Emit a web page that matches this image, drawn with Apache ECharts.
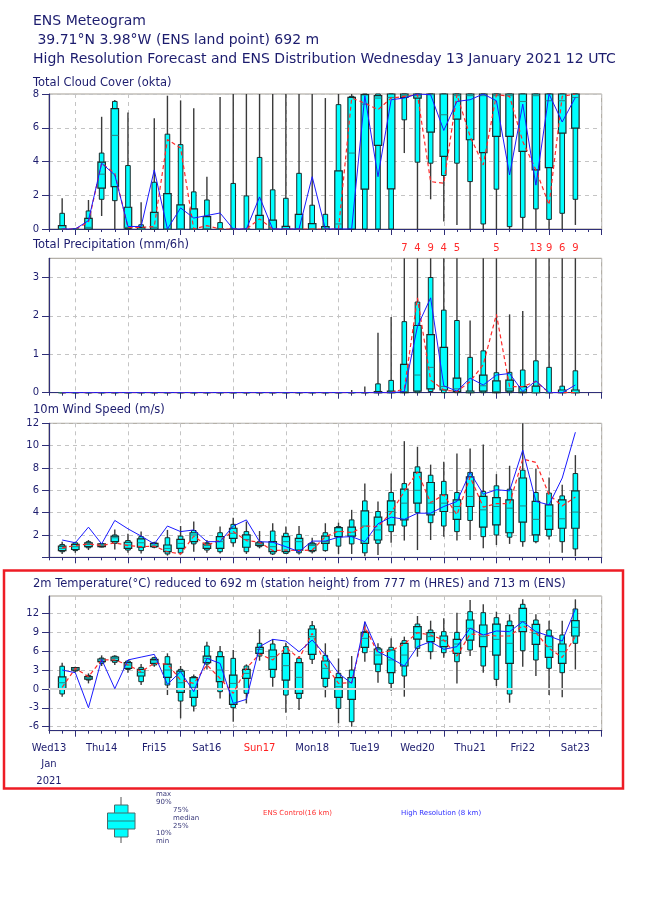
<!DOCTYPE html>
<html><head><meta charset="utf-8">
<script src="https://cdn.jsdelivr.net/npm/echarts@6/dist/echarts.min.js"></script>
<style>html,body{margin:0;padding:0;background:#fff}#c{width:650px;height:916px}</style>
</head><body><div id="c"></div>
<script>
// ---------- DATA ----------
// forecast steps (hours after Wed 13 Jan 2021 12 UTC)
const steps = [6,12,18,24,30,36,42,48,54,60,66,72,78,84,90,96,102,108,114,120,126,132,138,144,150,156,162,168,174,180,186,192,198,204,210,216,222,228,234,240];
const dayLabelSteps = [0,24,48,72,96,120,144,168,192,216,240];
const dayLabels = ['Wed13\nJan\n2021','Thu14','Fri15','Sat16','Sun17','Mon18','Tue19','Wed20','Thu21','Fri22','Sat23'];
const midnightSteps = [12,36,60,84,108,132,156,180,204,228,252];

// each box: [min, p10, p25, median, p75, p90, max]
const cloudBox = [
 [0,0,0,0,0.2,0.93,1.82],[0,0,0,0,0,0,0],[0,0,0,0.1,0.63,1.07,1.72],[0.77,1.76,2.42,3.25,3.96,4.5,6.65],
 [0,1.68,2.51,5.55,7.13,7.56,7.64],[0,0,0.05,0.1,1.29,3.76,6.9],[0,0,0,0,0.1,0.25,1.58],[0,0,0,0.1,0.99,2.77,6.57],
 [0,0,0,0,2.1,5.62,7.9],[0,0,0,0,1.43,5.0,7.62],[0,0,0,0,1.19,2.2,7.15],[0,0,0,0,0.73,1.72,3.1],
 [0,0,0,0,0,0.38,7.82],[0,0,0,0,0,2.7,8],[0,0,0,0,0,1.96,8],[0,0,0,0,0.81,4.24,8],
 [0,0,0,0,0.53,2.32,8],[0,0,0,0,0.15,1.82,8],[0,0,0,0,0.87,3.3,8],[0,0,0,0,0.32,1.41,8],
 [0,0,0,0,0.14,0.87,7.76],[0,0,0,0.3,3.45,7.37,8],[0,0,0,4.5,7.8,7.86,8],[0,0,2.36,7.4,7.96,8,8],
 [0,0,4.95,7.76,7.9,8,8],[0,0,2.38,7.8,8,8,8],[4.5,6.47,7.8,7.9,8,8,8],[0,3.96,7.76,7.9,8,8,8],
 [1.76,3.9,5.74,7.96,8,8,8],[0.44,3.17,4.3,6.77,8,8,8],[0.24,3.9,6.51,7.9,8,8,8],[0,2.81,5.29,7.9,8,8,8],
 [0,0.3,4.53,7.9,8,8,8],[0,2.36,5.49,7.9,8,8,8],[0,0.14,5.49,7.9,8,8,8],[0,0.69,4.6,7.56,8,8,8],
 [0,1.19,3.5,7.9,8,8,8],[0,0.57,3.64,7.6,8,8,8],[0,0.93,5.68,7.6,8,8,8],[0.24,1.76,5.98,7.8,8,8,8]
];
const cloudCtrl = [0,0,0.4,3.9,3.3,0.1,0.1,0.15,5.3,4.8,0,0.2,0,0,0,0.6,0,0,0,0,0,0,7.76,7.46,7.07,7.76,7.86,7.96,2.81,2.71,7.96,5.49,3.8,7.96,7.86,5.19,3.5,1.43,7.86,8];
const cloudHres = [0,0,0.5,3.9,3.2,0.15,0.15,3.5,0,1.25,0.65,0.8,0.95,0,0,1.9,0,0,0,3.1,0,0,0,7.9,3.1,7.66,7.76,8,7.96,5.84,7.56,7.66,8,7.6,3.2,7.4,2.6,8,6.34,7.8];

const precipBox = [
 [0,0,0,0,0,0,0],[0,0,0,0,0,0,0],[0,0,0,0,0,0,0],[0,0,0,0,0,0,0],[0,0,0,0,0,0,0],[0,0,0,0,0,0,0],
 [0,0,0,0,0,0,0],[0,0,0,0,0,0,0],[0,0,0,0,0,0,0],[0,0,0,0,0,0,0],[0,0,0,0,0,0,0],[0,0,0,0,0,0,0],
 [0,0,0,0,0,0,0],[0,0,0,0,0,0,0],[0,0,0,0,0,0,0],[0,0,0,0,0,0,0],[0,0,0,0,0,0,0],[0,0,0,0,0,0,0],
 [0,0,0,0,0,0,0],[0,0,0,0,0,0,0],[0,0,0,0,0,0,0],[0,0,0,0,0,0,0],[0,0,0,0,0,0,0.07],[0,0,0,0,0,0,0.16],
 [0,0,0,0,0.03,0.23,1.56],[0,0,0,0,0.04,0.32,1.97],[0,0,0,0.03,0.74,1.85,7],[0,0,0.04,0.46,1.75,2.36,4],
 [0,0.03,0.1,0.66,1.51,3.0,9],[0,0,0.07,0.16,1.18,2.15,4],[0,0,0.03,0.1,0.38,1.88,5],[0,0,0,0.02,0.04,0.92,1.88],
 [0,0,0.04,0.18,0.46,1.09,3.5],[0,0,0,0.03,0.31,0.52,5],[0,0,0.04,0.1,0.33,0.53,2.04],[0,0,0,0.03,0.16,0.59,2.13],
 [0,0,0,0,0.17,0.83,13],[0,0,0,0,0,0.66,9],[0,0,0,0,0.07,0.17,6],[0,0,0,0,0.07,0.57,9]
];
const precipCtrl = [0,0,0,0,0,0,0,0,0,0,0,0,0,0,0,0,0,0,0,0,0,0,0,0,0,0,0.1,2.47,0.33,0.07,0.03,0.29,0.73,2.04,0.16,0.16,0.29,0,0,0];
const precipHres = [0,0,0,0,0,0,0,0,0,0,0,0,0,0,0,0,0,0,0,0,0,0,0,0,0,0,0.03,1.73,2.47,0.18,0.04,0.38,0.2,0.46,0.5,0.03,0.31,0,0,0.2];

const windBox = [
 [0.3,0.5,0.6,0.8,1.0,1.15,1.4],[0.4,0.6,0.7,0.95,1.15,1.3,1.4],[0.65,0.85,0.95,1.15,1.3,1.4,1.55],[0.9,0.92,0.95,1.07,1.2,1.22,1.25],
 [0.7,1.25,1.4,1.75,1.9,2.0,2.5],[0.4,0.65,0.8,1.1,1.35,1.5,2.1],[0.35,0.6,0.9,1.3,1.65,1.85,2.3],[0.8,0.9,0.95,1.1,1.25,1.3,1.4],
 [0.15,0.3,0.5,0.8,1.1,1.75,2.45],[0.25,0.4,0.8,1.25,1.6,1.9,2.8],[0.5,1.2,1.4,2.0,2.2,2.4,3.2],[0.4,0.65,0.8,1.05,1.2,1.3,1.55],
 [0.35,0.5,0.8,1.4,1.85,2.2,2.75],[0.95,1.3,1.7,2.15,2.6,2.95,3.55],[0.3,0.5,0.9,1.6,2.0,2.3,3.2],[0.8,0.95,1.07,1.2,1.3,1.4,2.35],
 [0.2,0.3,0.5,0.95,1.4,2.35,3.05],[0.3,0.35,0.5,1.4,1.85,2.15,2.75],[0.25,0.4,0.65,1.4,1.7,2.05,2.8],[0.35,0.5,0.6,1.05,1.2,1.3,1.75],
 [0.5,0.6,1.25,1.4,1.9,2.2,3.05],[0.3,1.0,1.85,2.3,2.65,2.75,3.1],[0.3,1.2,1.9,2.25,2.7,3.35,4.25],[0.1,0.4,1.25,2.8,4.15,5.05,6.6],
 [0.2,1.25,1.55,2.45,3.6,4.1,5.0],[1.3,2.3,2.9,4.1,5.05,5.8,7.5],[1.5,2.8,3.35,4.85,6.1,6.6,10.4],[0.65,4.0,4.85,6.0,7.6,8.1,9.9],
 [1.55,3.1,3.8,4.85,6.7,7.35,8.3],[1.85,2.8,4.1,4.85,5.6,6.8,8.55],[1.5,2.3,3.4,4.55,5.15,5.8,9.3],[1.55,3.3,4.55,5.45,7.2,7.6,9.75],
 [0.8,1.85,2.7,4.25,5.45,5.9,10.1],[1.1,2.0,2.9,4.55,5.35,6.4,7.45],[1.2,1.8,2.2,4.4,5.15,6.1,8.2],[0.95,1.4,3.15,4.6,7.1,7.8,12.0],
 [1.25,1.4,2.0,3.4,5.0,5.8,7.95],[1.6,1.9,2.5,3.7,4.7,5.75,7.15],[0.4,1.4,2.6,3.45,5.15,5.5,6.5],[0.1,0.75,2.6,4.05,5.95,7.5,9.15]
];
const windCtrl = [0.85,1.05,1.2,1.05,1.3,1.05,0.95,1.0,0.5,0.3,1.9,1.05,1.55,2.3,1.5,1.35,0.6,0.65,0.6,0.65,1.85,2.35,2.2,2.8,2.75,4.0,5.9,7.65,4.9,5.6,3.8,7.2,4.5,4.8,4.8,8.8,8.5,5.6,4.6,5.4];
const windHres = [1.55,1.3,2.7,1.2,3.3,2.55,1.9,1.2,2.8,2.3,2.45,1.4,1.4,2.8,3.35,1.4,1.35,0.95,0.5,1.45,1.45,1.8,1.85,1.4,3.0,3.6,3.4,3.95,3.95,4.55,5.0,7.6,5.65,6.05,5.95,9.6,5.0,4.7,7.1,11.2];

const tempBox = [
 [-1.23,-0.8,-0.07,0.98,1.9,3.6,4.17],[2.6,2.84,3.0,3.2,3.37,3.4,3.53],[0.88,1.41,1.57,1.78,1.94,2.15,2.47],[3.64,4.06,4.32,4.6,4.75,4.9,5.33],
 [3.8,4.22,4.48,4.85,5.07,5.2,5.33],[2.58,3.1,3.27,3.8,4.17,4.43,4.6],[0.62,1.15,2.05,2.63,3.1,3.42,3.95],[3.53,3.8,4.06,4.48,4.7,4.96,5.12],
 [-0.97,0.62,1.84,3.0,3.95,5.12,5.65],[-4.67,-1.92,-0.55,0.98,2.84,3.1,3.64],[-3.6,-2.72,-1.34,0.25,1.78,1.94,2.31],[3.1,3.95,4.17,4.85,5.22,6.81,7.5],
 [-1.5,-0.44,1.15,3.0,5.12,5.91,6.81],[-5.2,-2.98,-2.45,0.88,2.2,4.85,6.18],[-2.3,-0.7,1.68,2.47,3.1,3.64,3.9],[4.48,5.22,5.65,6.28,6.6,7.24,9.46],
 [0.35,1.84,3.1,5.12,6.18,7.13,7.92],[-3.78,-0.97,1.41,3.69,5.65,6.71,7.34],[-3.35,-1.5,-0.7,1.84,4.17,4.85,5.22],[3.95,4.7,5.49,8.3,9.51,10.04,10.78],
 [-1.34,0.35,1.68,3.27,4.43,5.33,7.24],[-5.47,-3.09,-1.34,0.35,1.78,2.47,4.85],[-6.0,-5.2,-1.66,0.1,1.78,3.0,5.22],[4.32,5.75,6.6,8.03,8.98,9.09,10.68],
 [0.99,2.74,3.95,5.38,6.34,6.55,7.24],[-0.28,0.88,2.58,4.6,6.18,6.6,8.03],[-1.23,2.05,3.64,5.38,7.24,7.66,8.3],[5.12,6.44,7.92,8.93,9.88,10.3,11.58],
 [4.7,5.91,7.5,8.3,8.93,9.35,10.83],[4.96,5.75,6.71,7.66,8.4,9.09,11.2],[0.88,4.32,5.65,7.13,7.87,8.98,12.1],[5.22,6.18,7.76,9.62,10.94,12.26,14.1],
 [2.58,3.64,6.71,8.3,10.15,12.1,13.43],[0.46,1.52,5.38,7.87,10.3,11.31,12.26],[-2.19,-0.81,4.06,7.24,10.04,10.78,11.84],[3.53,6.07,9.09,10.68,12.79,13.43,14.22],
 [2.05,4.59,7.08,8.82,10.25,10.94,11.84],[-0.97,3.27,5.01,6.71,8.4,9.35,10.83],[-1.34,2.58,4.06,5.91,7.13,8.56,10.83],[3.1,7.24,8.4,9.78,10.83,12.69,14.22]
];
const tempCtrl = [0.25,3.27,1.94,4.6,4.6,3.8,2.74,4.06,3.95,1.41,0.88,3.8,1.68,-0.7,3.27,5.54,4.6,6.6,4.85,8.82,3.8,0.88,1.04,9.88,5.65,6.07,7.13,8.93,8.56,7.76,5.22,8.72,8.56,8.4,8.4,10.04,8.93,6.44,5.01,8.3];
const tempHres = [3.0,2.58,-2.98,4.7,0.04,4.6,5.05,5.49,0.72,2.74,-0.44,4.85,4.06,-2.3,-1.66,6.71,7.87,7.6,5.91,7.76,5.4,2.47,0.88,10.68,5.91,4.85,3.64,6.71,7.5,6.28,6.71,9.62,8.56,9.2,9.09,10.68,9.09,8.4,7.6,12.69];

// ---------- CHART ----------
const FONT = '"DejaVu Sans", sans-serif';
const NAVY = '#1c1c6e';
const AXIS = '#2f2f78';
const GRIDC = '#c4c4c4';
const chart = echarts.init(document.getElementById('c'), null, {renderer:'canvas'});

const panels = [
  {box: cloudBox, ctrl: cloudCtrl, hres: cloudHres, top: 94, height: 135, min: 0, max: 8, ticks: [0,2,4,6,8], labels: [0,2,4,6,8], overflow: false},
  {box: precipBox, ctrl: precipCtrl, hres: precipHres, top: 258.3, height: 134.4, min: 0, max: 3.5, ticks: [0,1,2,3], labels: [0,1,2,3], overflow: true},
  {box: windBox, ctrl: windCtrl, hres: windHres, top: 423.3, height: 134, min: 0, max: 12, ticks: [0,2,4,6,8,10,12], labels: [2,4,6,8,10,12], overflow: false},
  {box: tempBox, ctrl: tempCtrl, hres: tempHres, top: 596, height: 134.7, min: -6.63, max: 14.75, ticks: [-6,-3,0,3,6,9,12], labels: [-6,-3,0,3,6,9,12], overflow: false}
];

function makeBoxRender(axisMax, showOverflow) {
  return function (params, api) {
    const s = api.value(0);
    const cs = params.coordSys;
    const top = cs.y, bot = cs.y + cs.height;
    const yv = k => Math.max(top, Math.min(bot, api.coord([s, api.value(k)])[1]));
    const px = api.coord([s, 0])[0];
    const mn = yv(1), p10 = yv(2), p25 = yv(3), med = yv(4), p75 = yv(5), p90 = yv(6), mx = yv(7);
    const wW = 7.5, nW = 4.6;
    const ch = [
      {type:'line', shape:{x1:px, y1:mn, x2:px, y2:mx}, style:{stroke:'#3a3a3a', lineWidth:1.4}},
      {type:'rect', shape:{x:px - nW/2, y:p90, width:nW, height:p10 - p90}, style:{fill:'#00ffff', stroke:'#1d2b2b', lineWidth:1}},
      {type:'rect', shape:{x:px - wW/2, y:p75, width:wW, height:p25 - p75}, style:{fill:'#00ffff', stroke:'#1d2b2b', lineWidth:1.2}},
      {type:'line', shape:{x1:px - wW/2, y1:med, x2:px + wW/2, y2:med}, style:{stroke:'#2b8080', lineWidth:1}}
    ];
    if (showOverflow && api.value(7) > axisMax) {
      ch.push({type:'text', style:{text:String(Math.round(api.value(7))), x:px, y:top - 10,
        align:'center', verticalAlign:'middle', fill:'#ff2a2a', font:'10px ' + FONT}});
    }
    return {type:'group', children: ch};
  };
}

const grid = [], xAxis = [], yAxis = [], series = [];
panels.forEach((p, g) => {
  grid.push({left: 49, top: p.top, width: 552.7, height: p.height, show: true,
    borderColor: '#a29d93', borderWidth: 1, backgroundColor: 'transparent', containLabel: false, outerBoundsMode: 'none'});
  xAxis.push({gridIndex: g, type: 'value', min: 0, max: 252, interval: 6, position: 'bottom',
    axisLine: {show: true, onZero: false, lineStyle: {color: AXIS, width: 1.2}},
    axisTick: {show: true, length: 3, lineStyle: {color: AXIS}},
    axisLabel: {show: false}, splitLine: {show: false}});
  xAxis.push({gridIndex: g, type: 'value', min: 0, max: 252, position: 'bottom',
    axisLine: {show: false, onZero: false},
    axisTick: {show: true, customValues: midnightSteps, length: 6, lineStyle: {color: AXIS}},
    splitLine: {show: true, lineStyle: {color: GRIDC, type: [4, 4], width: 1}},
    axisLabel: g === 3 ? {
      show: true, customValues: dayLabelSteps, margin: 9, fontFamily: FONT, fontSize: 10, color: NAVY,
      lineHeight: 16.5, verticalAlign: 'top',
      formatter: v => { const i = dayLabelSteps.indexOf(v); const t = dayLabels[i] || ''; return t === 'Sun17' ? '{r|Sun17}' : t; },
      rich: {r: {color: '#ff2020', fontFamily: FONT, fontSize: 10}}
    } : {show: false}});
  yAxis.push({gridIndex: g, type: 'value', min: p.min, max: p.max,
    axisLine: {show: true, onZero: false, lineStyle: {color: AXIS, width: 1.2}},
    axisTick: {show: true, length: 7, customValues: p.ticks, lineStyle: {color: AXIS}},
    axisLabel: {show: true, customValues: p.labels, margin: 10, fontFamily: FONT, fontSize: 10, color: NAVY},
    splitLine: {show: true, lineStyle: {color: GRIDC, type: [4, 4], width: 1}}});
  if (g === 3) {
    series.push({type: 'line', xAxisIndex: 2*g, yAxisIndex: g, data: [], z: 1, silent: true,
      markLine: {silent: true, symbol: 'none', label: {show: false}, animation: false,
        lineStyle: {color: '#d6d6d6', width: 2, type: 'solid'}, data: [{yAxis: 0}]}});
  }
  series.push({type: 'custom', xAxisIndex: 2*g, yAxisIndex: g, z: 3, clip: false,
    renderItem: makeBoxRender(p.max, p.overflow),
    encode: {x: 0, y: [1,2,3,4,5,6,7]},
    data: steps.map((s, i) => [s].concat(p.box[i]))});
  series.push({type: 'line', xAxisIndex: 2*g, yAxisIndex: g, z: 5, symbol: 'none', silent: true,
    lineStyle: {color: '#ff2a2a', width: 1.2, type: [4, 3]},
    data: steps.map((s, i) => [s, p.ctrl[i]])});
  series.push({type: 'line', xAxisIndex: 2*g, yAxisIndex: g, z: 6, symbol: 'none', silent: true,
    lineStyle: {color: '#1a1aff', width: 1},
    data: steps.map((s, i) => [s, p.hres[i]])});
});

function txt(x, y, text, size, color) {
  return {type: 'text', x: x, y: y, silent: true,
    style: {text: text, font: size + 'px ' + FONT, fill: color, verticalAlign: 'middle', align: 'left'}};
}

const graphic = [
  txt(33, 21, 'ENS Meteogram', 14, NAVY),
  txt(33, 40, ' 39.71°N 3.98°W (ENS land point) 692 m', 14, NAVY),
  txt(33, 59, 'High Resolution Forecast and ENS Distribution Wednesday 13 January 2021 12 UTC', 14, NAVY),
  txt(33, 83, 'Total Cloud Cover (okta)', 11.5, NAVY),
  txt(33, 245, 'Total Precipitation (mm/6h)', 11.5, NAVY),
  txt(33, 410, '10m Wind Speed (m/s)', 11.5, NAVY),
  txt(33, 584, '2m Temperature(°C) reduced to 692 m (station height) from 777 m (HRES) and 713 m (ENS)', 11.5, NAVY),
  {type: 'rect', silent: true, shape: {x: 4, y: 570.5, width: 619, height: 218},
    style: {fill: 'none', stroke: '#ee1c25', lineWidth: 2.5}},
  // legend glyph
  {type: 'line', silent: true, shape: {x1: 121, y1: 797, x2: 121, y2: 843}, style: {stroke: '#555', lineWidth: 1}},
  {type: 'rect', silent: true, shape: {x: 114.5, y: 805, width: 13.5, height: 32}, style: {fill: '#00ffff', stroke: '#4a6a6a', lineWidth: 1}},
  {type: 'rect', silent: true, shape: {x: 107.5, y: 813, width: 27.5, height: 16}, style: {fill: '#00ffff', stroke: '#4a6a6a', lineWidth: 1}},
  {type: 'line', silent: true, shape: {x1: 107.5, y1: 821, x2: 135, y2: 821}, style: {stroke: '#2b8080', lineWidth: 1}},
  txt(156, 794, 'max', 7, '#3a3a7a'),
  txt(156, 802.5, '90%', 7, '#3a3a7a'),
  txt(173, 810, '75%', 7, '#3a3a7a'),
  txt(173, 818, 'median', 7, '#3a3a7a'),
  txt(173, 826, '25%', 7, '#3a3a7a'),
  txt(156, 833, '10%', 7, '#3a3a7a'),
  txt(156, 841, 'min', 7, '#3a3a7a'),
  txt(263, 813, 'ENS Control(16 km)', 7, '#ff3030'),
  txt(401, 813, 'High Resolution (8 km)', 7, '#3030ff')
];

chart.setOption({
  animation: false,
  backgroundColor: '#ffffff',
  grid: grid, xAxis: xAxis, yAxis: yAxis, series: series, graphic: graphic
});
</script>
</body></html>
